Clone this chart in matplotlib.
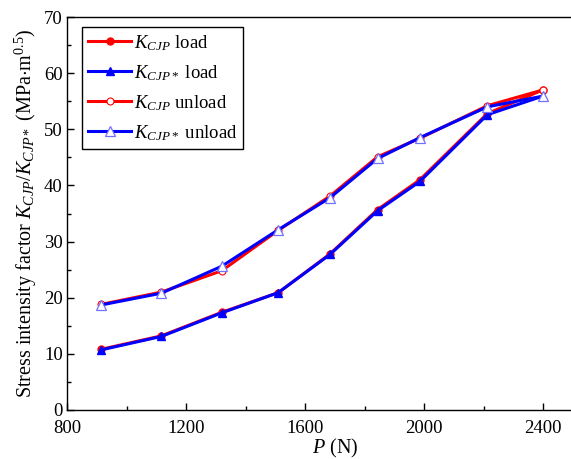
import matplotlib
matplotlib.use("Agg")
import matplotlib.pyplot as plt
from matplotlib.ticker import MultipleLocator

plt.rcParams["font.family"] = ["Liberation Serif", "DejaVu Serif"]
plt.rcParams["mathtext.fontset"] = "custom"
plt.rcParams["mathtext.rm"] = "Liberation Serif"
plt.rcParams["mathtext.it"] = "Liberation Serif:italic"
plt.rcParams["mathtext.bf"] = "Liberation Serif:bold"

# Load (N)
P = [914, 1117, 1320, 1510, 1684, 1844, 1986, 2213, 2399]

# Stress intensity factors (MPa·m^0.5), loading branch
k_cjp_load = [10.8, 13.2, 17.4, 20.9, 27.8, 35.7, 41.0, 52.8, 57.0]
k_cjps_load = [10.7, 13.1, 17.3, 20.9, 27.7, 35.5, 40.7, 52.6, 55.9]

# Unloading branch, listed at the same loads (low to high)
k_cjp_unload = [18.8, 21.0, 24.8, 32.0, 38.1, 45.1, 48.4, 54.2, 57.0]
k_cjps_unload = [18.7, 20.8, 25.6, 32.1, 37.8, 44.8, 48.5, 54.0, 55.9]

labels = [r"$K_{CJP}$ load", r"$K_{CJP*}$ load",
          r"$K_{CJP}$ unload", r"$K_{CJP*}$ unload"]

fig = plt.figure(figsize=(5.71, 4.59), dpi=100)
ax = fig.add_axes([67 / 571, 49 / 459, 535.5 / 571, 393 / 459])

lw = 2.2
ax.plot(P, k_cjp_load, color="red", lw=lw, marker="o", ms=5,
        mfc="red", mec="red", label=labels[0], zorder=3)
ax.plot(P, k_cjp_unload, color="red", lw=lw, marker="o", ms=5,
        mfc="white", mec="red", mew=0.8, label=labels[2], zorder=3)
ax.plot(P, k_cjps_load, color="blue", lw=lw, marker="^", ms=6,
        mfc="blue", mec="blue", label=labels[1], zorder=4)
ax.plot(P, k_cjps_unload, color="blue", lw=lw, marker="^", ms=6.5,
        mfc="white", mec="#7070ff", mew=0.9, label=labels[3], zorder=4)

ax.set_xlim(800, 2600)
ax.set_ylim(0, 70)
ax.xaxis.set_major_locator(MultipleLocator(400))
ax.xaxis.set_minor_locator(MultipleLocator(200))
ax.yaxis.set_major_locator(MultipleLocator(10))
ax.yaxis.set_minor_locator(MultipleLocator(5))
ax.tick_params(which="both", direction="in", labelsize=13.5, width=1,
               top=False, right=False)
ax.tick_params(which="major", length=5)
ax.tick_params(which="minor", length=3)
ax.tick_params(axis="x", pad=7)
ax.tick_params(axis="y", pad=3)
for s in ax.spines.values():
    s.set_linewidth(1.0)

ax.set_xlabel(r"$P$ (N)", fontsize=14.5, labelpad=0)
ax.set_ylabel(r"Stress intensity factor $K_{CJP}/K_{CJP*}$ (MPa$\cdot$m$^{0.5}$)",
              fontsize=14.5, labelpad=4)

handles, labs = ax.get_legend_handles_labels()
order = [0, 2, 1, 3]
leg = ax.legend([handles[i] for i in order], [labs[i] for i in order],
                loc="upper left", bbox_to_anchor=(0.028, 0.975),
                fontsize=13.5, frameon=True, fancybox=False, edgecolor="black",
                framealpha=1, handlelength=2.3, labelspacing=0.55,
                handletextpad=0.15, borderpad=0.32, borderaxespad=0)
leg.get_frame().set_linewidth(1.0)

fig.savefig("out.png", dpi=100)
